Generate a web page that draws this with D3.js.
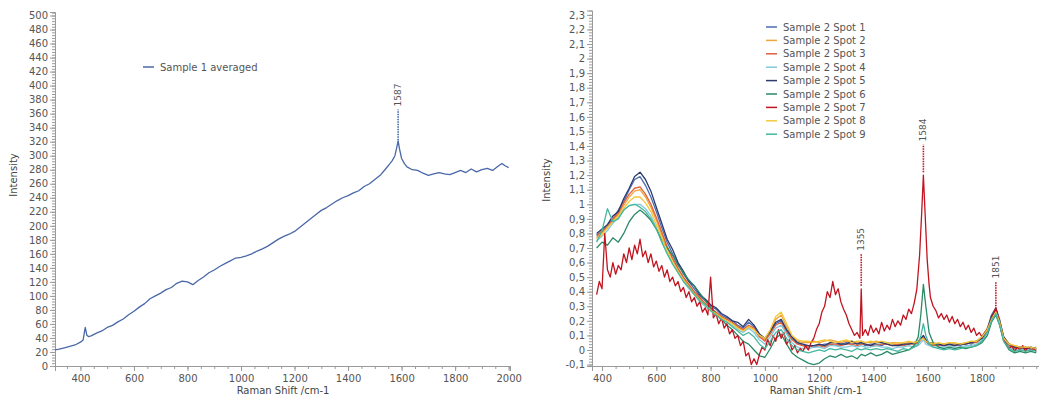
<!DOCTYPE html>
<html>
<head>
<meta charset="utf-8">
<script src="https://cdn.jsdelivr.net/npm/d3@7"></script>
<style>
body { margin: 0; background: #fff; }
text { font-family: "DejaVu Sans", Verdana, sans-serif; }
</style>
</head>
<body>
<svg id="chart" width="1039" height="396"></svg>
<script>
// ---------- data ----------
var leftShift = [305,320,340,360,380,400,410,418,424,430,440,460,480,500,520,540,560,580,600,620,640,660,680,700,720,740,760,780,800,820,840,860,880,900,920,940,960,980,1000,1020,1040,1060,1080,1100,1120,1140,1160,1180,1200,1220,1240,1260,1280,1300,1320,1340,1360,1380,1400,1420,1440,1460,1480,1500,1520,1540,1555,1565,1575,1582,1587,1592,1600,1610,1620,1640,1660,1680,1700,1720,1740,1760,1780,1800,1820,1840,1860,1880,1900,1920,1940,1960,1975,1985,2000];
var leftIntensity = [23,24,26,28,30,34,37,55,44,42,43,47,50,55,58,63,67,73,78,84,89,96,100,104,109,112,118,121,120,116,122,127,133,137,142,146,150,154,155,157,160,164,167,171,176,181,185,188,192,198,204,210,216,222,226,231,236,240,243,247,250,256,260,266,272,281,288,293,300,312,321,310,296,289,284,280,279,275,272,274,276,274,273,276,279,276,281,277,280,282,279,285,289,286,283];
var leftName = "Sample 1 averaged";
var leftColor = "#4a68a8";
var leftPeaks = [{ label: "1587", shift: 1587, from: 322, to: 366 }];

var rightShift = [380,400,420,440,460,480,500,520,540,560,
  580,600,620,640,660,680,700,720,740,760,
  780,800,820,840,860,880,900,920,940,960,
  980,1000,1020,1040,1060,1080,1100,1120,1140,1160,
  1180,1200,1220,1240,1260,1280,1300,1320,1340,1355,
  1370,1390,1410,1430,1450,1470,1490,1510,1530,1550,
  1565,1575,1584,1593,1605,1620,1640,1660,1680,1700,
  1720,1740,1760,1780,1800,1820,1835,1851,1865,1880,
  1900,1920,1940,1960,1980,2000];

var spot1 = [.79,.81,.86,.90,.96,1.02,1.10,1.17,1.19,1.13,
  1.05,.95,.84,.74,.66,.59,.52,.47,.42,.37,
  .34,.30,.28,.24,.22,.20,.17,.15,.19,.16,
  .10,.07,.12,.18,.20,.13,.08,.05,.03,.03,
  .02,.03,.04,.04,.03,.04,.05,.04,.05,.05,
  .03,.04,.04,.03,.05,.04,.03,.03,.05,.04,
  .05,.07,.09,.06,.04,.04,.03,.03,.04,.04,
  .03,.05,.04,.06,.09,.15,.24,.29,.21,.08,
  .03,.02,.01,.02,.01,.01];
var spot2 = [.77,.80,.85,.89,.93,.99,1.05,1.09,1.10,1.05,
  .98,.89,.79,.70,.62,.55,.49,.44,.39,.35,
  .32,.28,.25,.23,.20,.18,.16,.13,.16,.14,
  .09,.07,.13,.21,.24,.16,.09,.06,.05,.05,
  .06,.05,.06,.07,.06,.05,.06,.06,.05,.06,
  .05,.05,.06,.05,.04,.05,.05,.04,.05,.05,
  .06,.07,.09,.06,.05,.05,.04,.04,.05,.04,
  .04,.05,.05,.06,.09,.15,.22,.27,.20,.09,
  .04,.03,.02,.02,.01,.02];
var spot3 = [.78,.82,.84,.90,.94,1.01,1.07,1.11,1.12,1.07,
  1.00,.91,.81,.71,.63,.56,.50,.45,.40,.36,
  .32,.29,.26,.23,.21,.19,.16,.14,.17,.15,
  .09,.06,.11,.17,.19,.12,.07,.04,.03,.02,
  .03,.03,.02,.04,.04,.03,.04,.04,.03,.04,
  .04,.03,.03,.04,.04,.03,.04,.03,.04,.04,
  .05,.07,.09,.06,.04,.03,.03,.04,.03,.03,
  .04,.04,.05,.05,.08,.14,.22,.27,.19,.08,
  .03,.01,.02,.01,.01,.00];
var spot4 = [.75,.78,.82,.87,.91,.96,.99,1.00,1.00,.97,
  .92,.84,.75,.66,.59,.53,.47,.42,.38,.33,
  .30,.27,.24,.21,.19,.17,.14,.12,.15,.12,
  .07,.04,.09,.15,.17,.11,.05,.02,.01,.01,
  .02,.02,.01,.03,.03,.02,.02,.03,.02,.03,
  .02,.02,.03,.02,.02,.01,.02,.02,.03,.02,
  .03,.05,.07,.04,.03,.02,.02,.02,.03,.02,
  .02,.03,.03,.04,.07,.13,.21,.26,.18,.07,
  .02,.00,.01,.00,.01,.00];
var spot5 = [.80,.83,.86,.92,.95,1.04,1.11,1.19,1.22,1.17,
  1.09,.98,.87,.76,.69,.60,.54,.47,.44,.38,
  .35,.31,.29,.25,.23,.20,.19,.16,.21,.17,
  .11,.08,.13,.19,.21,.14,.09,.05,.04,.03,
  .03,.04,.03,.05,.05,.04,.04,.06,.04,.05,
  .04,.03,.05,.05,.04,.03,.03,.04,.04,.05,
  .06,.08,.10,.07,.05,.04,.04,.03,.04,.03,
  .04,.04,.05,.06,.08,.14,.23,.28,.20,.09,
  .04,.02,.02,.01,.02,.01];
var spot6 = [.70,.74,.72,.77,.74,.80,.88,.93,.96,.93,
  .89,.83,.76,.70,.65,.58,.53,.48,.44,.39,
  .34,.29,.25,.21,.17,.14,.10,.06,.04,.00,
  -.04,-.05,.01,.08,.11,.04,-.02,-.05,-.07,-.09,
  -.10,-.09,-.06,-.04,-.05,-.03,-.05,-.04,-.06,-.03,
  -.04,-.02,-.04,-.03,-.01,-.03,-.02,-.01,.00,.03,
  .09,.25,.45,.30,.12,.05,.02,.01,.02,.01,
  .02,.01,.02,.03,.05,.10,.19,.24,.17,.06,
  .00,-.02,-.01,-.02,-.01,-.02];
var spot8 = [.76,.79,.84,.88,.92,.97,1.02,1.05,1.05,1.01,
  .95,.86,.77,.68,.60,.54,.48,.43,.38,.34,
  .31,.27,.25,.22,.20,.18,.15,.13,.16,.14,
  .10,.08,.14,.23,.26,.18,.10,.07,.06,.06,
  .05,.06,.07,.06,.05,.06,.07,.05,.06,.06,
  .05,.06,.05,.06,.05,.04,.05,.05,.06,.05,
  .06,.07,.08,.06,.05,.04,.05,.04,.05,.05,
  .04,.05,.06,.06,.09,.14,.21,.26,.19,.08,
  .04,.03,.02,.02,.02,.01];
var spot9 = [.74,.82,.97,.88,.90,.96,.99,1.00,.98,.95,
  .90,.83,.74,.66,.59,.53,.47,.43,.38,.34,
  .31,.27,.24,.21,.19,.16,.13,.10,.12,.09,
  .04,.01,.06,.12,.14,.08,.03,.00,-.01,-.02,
  -.01,.00,-.01,.01,.00,.01,.00,-.01,.01,.00,
  .01,.00,.01,.00,.01,.00,-.01,.01,.00,.02,
  .04,.10,.18,.10,.04,.02,.01,.00,.01,.00,
  .01,.02,.02,.03,.06,.12,.20,.25,.17,.06,
  .01,-.01,.00,-.01,.00,-.01];

var spot7Shift = [380,390,400,410,420,430,440,450,460,470,
  480,490,500,510,520,530,540,550,560,570,
  580,590,600,610,620,630,640,650,660,670,
  680,690,700,710,720,730,740,750,760,770,
  780,790,800,810,820,830,840,850,860,870,
  880,890,900,910,920,930,940,950,960,970,
  980,990,1000,1010,1020,1030,1040,1050,1060,1070,
  1080,1090,1100,1110,1120,1130,1140,1150,1160,1170,
  1180,1190,1200,1210,1220,1230,1240,1250,1260,1270,
  1280,1290,1300,1310,1320,1330,1340,1350,1355,1360,
  1370,1380,1390,1400,1410,1420,1430,1440,1450,1460,
  1470,1480,1490,1500,1510,1520,1530,1540,1550,1560,
  1570,1578,1584,1590,1598,1605,1610,1620,1630,1640,
  1650,1660,1670,1680,1690,1700,1710,1720,1730,1740,
  1750,1760,1770,1780,1790,1800,1810,1820,1830,1840,
  1851,1860,1870,1880,1890,1900,1910,1920,1930,1940,
  1950,1960,1970,1980,1990,2000];
var spot7 = [.38,.47,.42,.80,.55,.50,.60,.52,.58,.55,
  .66,.60,.70,.62,.72,.66,.76,.64,.68,.60,
  .66,.57,.61,.54,.58,.50,.55,.47,.50,.44,
  .47,.40,.43,.36,.40,.33,.36,.30,.33,.26,
  .29,.24,.50,.22,.25,.18,.22,.15,.18,.11,
  .14,.08,.10,.03,.06,-.04,-.02,-.10,-.06,-.10,
  -.03,.02,.00,.07,.03,.10,.06,.14,.08,.12,
  .04,.07,.00,.03,-.02,.01,-.01,.03,.00,.05,
  .08,.14,.18,.26,.30,.40,.36,.47,.38,.42,
  .33,.28,.24,.18,.14,.10,.12,.08,.42,.10,
  .14,.10,.17,.12,.15,.11,.19,.13,.17,.14,
  .21,.16,.20,.17,.24,.21,.28,.25,.32,.42,
  .65,.95,1.20,.95,.62,.45,.36,.30,.27,.22,
  .25,.21,.24,.19,.23,.18,.21,.16,.19,.14,
  .17,.12,.15,.10,.12,.09,.12,.14,.19,.24,
  .29,.22,.14,.07,.04,.01,.03,-.01,.02,.00,
  .03,-.01,.02,.00,.01,-.01];

var spotNames = ["Sample 2 Spot 1","Sample 2 Spot 2","Sample 2 Spot 3","Sample 2 Spot 4","Sample 2 Spot 5","Sample 2 Spot 6","Sample 2 Spot 7","Sample 2 Spot 8","Sample 2 Spot 9"];
var spotValues = [spot1, spot2, spot3, spot4, spot5, spot6, spot7, spot8, spot9];
var spotShifts = [rightShift, rightShift, rightShift, rightShift, rightShift, rightShift, spot7Shift, rightShift, rightShift];
var spotColors = ["#4a6cb0","#f0a43a","#e0603c","#84c8dc","#2c3a6e","#2a8a66","#c01420","#f2c83a","#44b89e"];
var rightPeaks = [
  { label: "1355", shift: 1355, from: 0.44, to: 0.66, color: "#c01420" },
  { label: "1584", shift: 1584, from: 1.22, to: 1.41, color: "#c01420" },
  { label: "1851", shift: 1851, from: 0.30, to: 0.47, color: "#c01420" }
];

var leftXTicks = [400,600,800,1000,1200,1400,1600,1800,2000];
var leftYTicks = [0,20,40,60,80,100,120,140,160,180,200,220,240,260,280,300,320,340,360,380,400,420,440,460,480,500];
var rightXTicks = [400,600,800,1000,1200,1400,1600,1800];
var rightYTicks = [-0.1,0,0.1,0.2,0.3,0.4,0.5,0.6,0.7,0.8,0.9,1,1.1,1.2,1.3,1.4,1.5,1.6,1.7,1.8,1.9,2,2.1,2.2,2.3];

// ---------- drawing ----------
var svg = d3.select("#chart");
var axisColor = "#9a9a9a", labelColor = "#555";

function styleAxis(g) {
  g.select(".domain").attr("stroke", axisColor);
  g.selectAll(".tick line").attr("stroke", axisColor);
  g.selectAll(".tick text").attr("fill", labelColor).style("font-size", "10px");
}

function drawPanel(p) {
  var x = d3.scaleLinear().domain(p.xDomain).range(p.xRange);
  var y = d3.scaleLinear().domain(p.yDomain).range(p.yRange);
  var g = svg.append("g");

  // minor ticks first
  g.append("g").attr("transform", "translate(0," + p.yRange[0] + ")")
    .call(d3.axisBottom(x).tickValues(p.xMinor).tickSize(3).tickFormat(""))
    .call(styleAxis);
  g.append("g").attr("transform", "translate(" + p.xRange[0] + ",0)")
    .call(d3.axisLeft(y).tickValues(p.yMinor).tickSize(3).tickFormat(""))
    .call(styleAxis);

  g.append("g").attr("transform", "translate(0," + p.yRange[0] + ")")
    .call(d3.axisBottom(x).tickValues(p.xTicks).tickSize(5).tickPadding(4).tickFormat(d3.format("d")))
    .call(styleAxis);
  g.append("g").attr("transform", "translate(" + p.xRange[0] + ",0)")
    .call(d3.axisLeft(y).tickValues(p.yTicks).tickSize(5).tickPadding(2).tickFormat(p.yFormat))
    .call(styleAxis);

  g.append("text")
    .attr("transform", "translate(" + p.yTitleX + "," + p.yTitleY + ") rotate(-90)")
    .attr("text-anchor", "middle").attr("fill", "#444").style("font-size", "10px")
    .text("Intensity");
  g.append("text")
    .attr("x", p.xTitleX).attr("y", 394)
    .attr("text-anchor", "middle").attr("fill", "#444").style("font-size", "10px")
    .text("Raman Shift /cm-1");

  var clipId = "clip" + p.id;
  svg.append("clipPath").attr("id", clipId).append("rect")
    .attr("x", p.xRange[0]).attr("y", p.yRange[1])
    .attr("width", p.xRange[1] - p.xRange[0]).attr("height", p.yRange[0] - p.yRange[1]);

  var line = d3.line().x(function(d) { return x(d[0]); }).y(function(d) { return y(d[1]); });
  var plot = g.append("g").attr("clip-path", "url(#" + clipId + ")");
  p.series.forEach(function(s) {
    plot.append("path")
      .datum(d3.zip(s.xs, s.ys))
      .attr("fill", "none").attr("stroke", s.color)
      .attr("stroke-width", 1.3).attr("stroke-linejoin", "round")
      .attr("d", line);
  });

  p.peaks.forEach(function(pk) {
    g.append("line")
      .attr("x1", x(pk.shift)).attr("x2", x(pk.shift))
      .attr("y1", y(pk.from)).attr("y2", y(pk.to))
      .attr("stroke", pk.color).attr("stroke-width", 1.6)
      .attr("stroke-dasharray", "1.5,1");
    g.append("text")
      .attr("transform", "translate(" + (x(pk.shift) + 3) + "," + (y(pk.to) - 3) + ") rotate(-90)")
      .attr("fill", "#555").style("font-size", "9px")
      .text(pk.label);
  });

  var leg = g.append("g");
  p.series.forEach(function(s, i) {
    var ly = p.legendY + i * p.legendStep;
    leg.append("line")
      .attr("x1", p.legendX).attr("x2", p.legendX + 11)
      .attr("y1", ly).attr("y2", ly)
      .attr("stroke", s.color).attr("stroke-width", 1.5);
    leg.append("text")
      .attr("x", p.legendX + 17).attr("y", ly + 3.5)
      .attr("fill", labelColor).style("font-size", "10px")
      .text(s.name);
  });
}

function commaFormat(v) {
  var s = d3.format(".1f")(v).replace("\u2212", "-").replace(".", ",");
  return s.replace(/,0$/, "");
}

drawPanel({
  id: "L",
  xDomain: [305, 2005], xRange: [55, 510],
  yDomain: [0, 505], yRange: [366, 12],
  xTicks: leftXTicks, xMinor: d3.range(350, 2001, 50),
  yTicks: leftYTicks, yMinor: d3.range(0, 505, 4),
  yFormat: d3.format("d"),
  yTitleX: 17, yTitleY: 175, xTitleX: 283,
  series: [{ name: leftName, color: leftColor, xs: leftShift, ys: leftIntensity }],
  peaks: leftPeaks.map(function(d) { return Object.assign({ color: leftColor }, d); }),
  legendX: 143, legendY: 67, legendStep: 14
});

drawPanel({
  id: "R",
  xDomain: [363, 2010], xRange: [592, 1039],
  yDomain: [-0.11, 2.33], yRange: [366, 10.5],
  xTicks: rightXTicks, xMinor: d3.range(400, 2001, 50),
  yTicks: rightYTicks, yMinor: d3.range(-0.1, 2.32, 0.02),
  yFormat: commaFormat,
  yTitleX: 550, yTitleY: 180, xTitleX: 816,
  series: spotNames.map(function(n, i) {
    return { name: n, color: spotColors[i], xs: spotShifts[i], ys: spotValues[i] };
  }),
  peaks: rightPeaks,
  legendX: 766, legendY: 27, legendStep: 13.4
});
</script>
</body>
</html>
